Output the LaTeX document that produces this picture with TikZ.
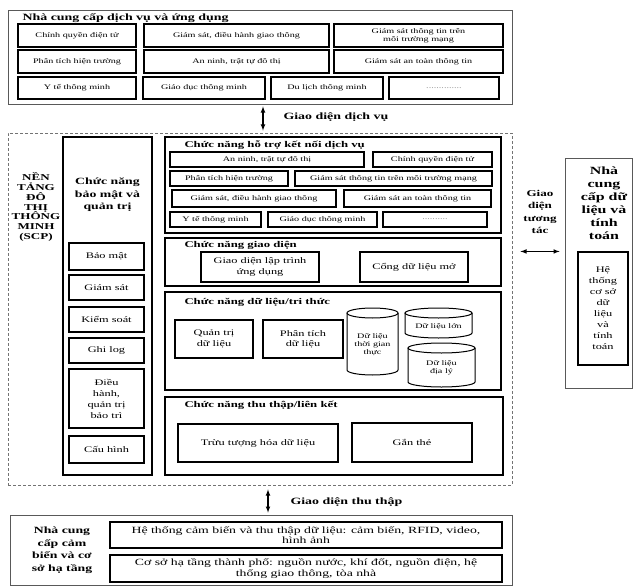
\documentclass[tikz,border=0pt]{standalone}
\usepackage{fontspec}
\setmainfont{Liberation Serif}[FakeStretch=1.45]
\usepackage{xcolor}
\usepackage{tikz}
\usetikzlibrary{calc}

\begin{document}
\begin{tikzpicture}[x=1pt,y=-1pt,
	hop/.style={draw,line width=1.1pt,align=center,inner sep=1pt},
	khung/.style={draw=black!65,line width=0.8pt},
	tieude/.style={anchor=west,font=\bfseries\fontsize{8.8}{10}\selectfont},
	nho/.style={font=\fontsize{7}{8}\selectfont},
	vua/.style={font=\fontsize{8.5}{10.5}\selectfont},
	dam/.style={align=center,font=\bfseries\fontsize{9.5}{12.5}\selectfont},
	mui/.style={latex-latex,line width=1.1pt,shorten >=2pt,shorten <=2pt}]
	\useasboundingbox (0,0) rectangle (637,586);

	\node[khung,minimum width=504,minimum height=94] (dvud) at (260,57) {};
	\node[anchor=west,font=\bfseries\fontsize{9.6}{11}\selectfont] (tdvud) at (19,18) {Nhà cung cấp dịch vụ và ứng dụng};
	\node[hop,nho,minimum width=118,minimum height=23] (cq1) at (77,35.5) {Chính quyền điện tử};
	\node[hop,nho,minimum width=185,minimum height=23] (gt1) at (236.5,35.5) {Giám sát, điều hành giao thông};
	\node[hop,nho,minimum width=169,minimum height=23] (mt1) at (418.5,35.5) {Giám sát thông tin trên\\môi trường mạng};
	\node[hop,nho,minimum width=118,minimum height=23] (pt1) at (77,61.5) {Phân tích hiện trường};
	\node[hop,nho,minimum width=185,minimum height=23] (an1) at (236.5,61.5) {An ninh, trật tự đô thị};
	\node[hop,nho,minimum width=169,minimum height=23] (at1) at (418.5,61.5) {Giám sát an toàn thông tin};
	\node[hop,nho,minimum width=118,minimum height=22] (yt1) at (77,88) {Y tế thông minh};
	\node[hop,nho,minimum width=122,minimum height=22] (gd1) at (204,88) {Giáo dục thông minh};
	\node[hop,nho,minimum width=112,minimum height=22] (dl1) at (327,88) {Du lịch thông minh};
	\node[hop,nho,minimum width=110,minimum height=22] (kh1) at (444,88) {\textcolor{gray}{..............}};

	\node[anchor=west,font=\bfseries\fontsize{9.6}{11}\selectfont] (gddv) at (280,117) {Giao diện dịch vụ};

	\node[draw=black!55,densely dashed,line width=0.9pt,minimum width=504,minimum height=352] (ncp) at (260,309) {};
	\node[align=center,font=\bfseries\fontsize{9}{9.8}\selectfont] (scp) at (36,207) {NỀN\\TẢNG\\ĐÔ\\THỊ\\THÔNG\\MINH\\(SCP)};

	\node[hop,minimum width=89,minimum height=338] (bmqt) at (107.5,306) {};
	\node[dam] (tbmqt) at (107.5,195) {Chức năng\\bảo mật và\\quản trị};
	\node[hop,vua,minimum width=75,minimum height=27] (bm) at (106.5,256.5) {Bảo mật};
	\node[hop,vua,minimum width=75,minimum height=25] (gs) at (106.5,287.5) {Giám sát};
	\node[hop,vua,minimum width=75,minimum height=25] (ks) at (106.5,319.5) {Kiểm soát};
	\node[hop,vua,minimum width=75,minimum height=25] (gl) at (106.5,350.5) {Ghi log};
	\node[hop,font=\fontsize{8.5}{11}\selectfont,minimum width=75,minimum height=59] (dh) at (106.5,398.5) {Điều\\hành,\\quản trị\\bảo trì};
	\node[hop,vua,minimum width=75,minimum height=27] (ch) at (106.5,449.5) {Cấu hình};

	\node[hop,minimum width=336,minimum height=96] (htkn) at (333,185) {};
	\node[tieude] (thtkn) at (181,145) {Chức năng hỗ trợ kết nối dịch vụ};
	\node[hop,nho,minimum width=194,minimum height=15] (an2) at (267,159.5) {An ninh, trật tự đô thị};
	\node[hop,nho,minimum width=119,minimum height=15] (cq2) at (432.5,159.5) {Chính quyền điện tử};
	\node[hop,nho,minimum width=118,minimum height=15] (pt2) at (229,178.5) {Phân tích hiện trường};
	\node[hop,nho,minimum width=197,minimum height=15] (mt2) at (393.5,178.5) {Giám sát thông tin trên môi trường mạng};
	\node[hop,nho,minimum width=164,minimum height=17] (gt2) at (254,198.5) {Giám sát, điều hành giao thông};
	\node[hop,nho,minimum width=147,minimum height=17] (at2) at (417.5,198.5) {Giám sát an toàn thông tin};
	\node[hop,nho,minimum width=91,minimum height=15] (yt2) at (215.5,219.5) {Y tế thông minh};
	\node[hop,nho,minimum width=109,minimum height=15] (gd2) at (322.5,219.5) {Giáo dục thông minh};
	\node[hop,nho,minimum width=104,minimum height=15] (kh2) at (435,219.5) {\textcolor{gray}{..........}};

	\node[hop,minimum width=336,minimum height=48] (gdien) at (333,262) {};
	\node[tieude] (tgdien) at (181,245) {Chức năng giao diện};
	\node[hop,vua,minimum width=118,minimum height=30] (api) at (260,267) {Giao diện lập trình\\ứng dụng};
	\node[hop,vua,minimum width=108,minimum height=30] (cong) at (414,267) {Cổng dữ liệu mở};

	\node[hop,minimum width=336,minimum height=98] (dltt) at (333,341) {};
	\node[tieude] (tdltt) at (181,302) {Chức năng dữ liệu/tri thức};
	\node[hop,vua,minimum width=78,minimum height=38] (qt) at (214,339) {Quản trị\\dữ liệu};
	\node[hop,vua,minimum width=80,minimum height=38] (ptdl) at (303,339) {Phân tích\\dữ liệu};
	\draw[line width=1pt] (347,313) -- (347,370) arc[start angle=180,end angle=360,x radius=25.5pt,y radius=5pt] -- (398,313);
	\draw[line width=1pt] (372.5,313) ellipse[x radius=25.5pt,y radius=5pt];
	\node[align=center,nho] (tgt) at (372.5,345) {Dữ liệu\\thời gian\\thực};
	\draw[line width=1pt] (405,313) -- (405,333) arc[start angle=180,end angle=360,x radius=33.5pt,y radius=5pt] -- (472,313);
	\draw[line width=1pt] (438.5,313) ellipse[x radius=33.5pt,y radius=5pt];
	\node[align=center,nho] (lon) at (438.5,327) {Dữ liệu lớn};
	\draw[line width=1pt] (408,348) -- (408,382) arc[start angle=180,end angle=360,x radius=33.5pt,y radius=5pt] -- (475,348);
	\draw[line width=1pt] (441.5,348) ellipse[x radius=33.5pt,y radius=5pt];
	\node[align=center,nho] (dly) at (441.5,368) {Dữ liệu\\địa lý};

	\node[hop,minimum width=338,minimum height=78] (tt) at (334,436) {};
	\node[tieude] (ttt) at (181,405) {Chức năng thu thập/liên kết};
	\node[hop,vua,minimum width=160,minimum height=38] (tth) at (258,443) {Trừu tượng hóa dữ liệu};
	\node[hop,vua,minimum width=120,minimum height=39] (gan) at (412,442.5) {Gắn thẻ};

	\node[khung,minimum width=67,minimum height=230] (ccdl) at (598.5,273) {};
	\node[align=center,font=\bfseries\fontsize{11}{13}\selectfont] (tccdl) at (604,203) {Nhà\\cung\\cấp dữ\\liệu và\\tính\\toán};
	\node[hop,font=\fontsize{8.5}{11}\selectfont,minimum width=50,minimum height=113] (hts) at (603,308.5) {Hệ\\thống\\cơ sở\\dữ\\liệu\\và\\tính\\toán};
	\node[align=center,font=\bfseries\fontsize{9}{12.5}\selectfont] (gdtt) at (540,212) {Giao\\diện\\tương\\tác};

	\node[anchor=west,font=\bfseries\fontsize{9.6}{11}\selectfont] (gdtht) at (287,502) {Giao diện thu thập};

	\node[khung,minimum width=502,minimum height=70] (hatang) at (261,550) {};
	\node[dam] (thatang) at (62,550) {Nhà cung\\cấp cảm\\biến và cơ\\sở hạ tầng};
	\node[hop,font=\fontsize{9.5}{10.5}\selectfont,minimum width=392,minimum height=26] (cb) at (306,535) {Hệ thống cảm biến và thu thập dữ liệu: cảm biến, RFID, video,\\hình ảnh};
	\node[hop,font=\fontsize{9.5}{10.5}\selectfont,minimum width=392,minimum height=27] (htp) at (306,568.5) {Cơ sở hạ tầng thành phố: nguồn nước, khí đốt, nguồn điện, hệ\\thống giao thông, tòa nhà};

	\draw[mui] ([xshift=3pt]dvud.south) -- ([xshift=3pt]ncp.north);
	\draw[mui,shorten <=4pt] ([xshift=8pt]ncp.south) -- ([xshift=7pt]hatang.north);
	\draw[mui,shorten <=8pt,shorten >=5pt] (ncp.east |- hts.north) -- (ccdl.west |- hts.north);
\end{tikzpicture}
\end{document}
